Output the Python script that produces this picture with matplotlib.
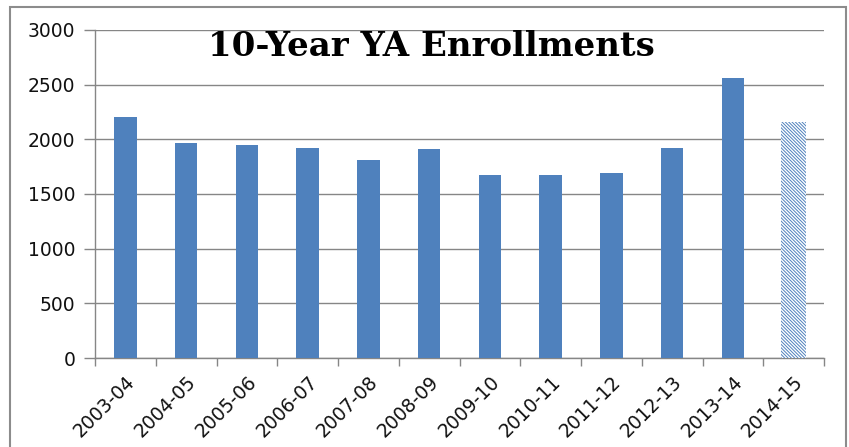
import numpy as np
import matplotlib.pyplot as plt
from matplotlib.patches import Rectangle

years = ['2003-04', '2004-05', '2005-06', '2006-07', '2007-08', '2008-09',
         '2009-10', '2010-11', '2011-12', '2012-13', '2013-14', '2014-15']
enrollments = [2205, 1965, 1945, 1920, 1810, 1910, 1675, 1675, 1695, 1920, 2560, 2160]
projected = [False] * 11 + [True]

blue = '#4F81BD'
grey = '#868686'

plt.rcParams['hatch.linewidth'] = 0.7

fig = plt.figure(figsize=(8.49, 4.47), dpi=100)
fig.patches.append(Rectangle((0.012, -0.05), 0.985, 1.034, transform=fig.transFigure,
                             fill=False, edgecolor='#8C8C8C', linewidth=1.5))
ax = fig.add_axes([0.1119, 0.1991, 0.8587, 0.7338])

x = np.arange(len(years))
for xi, val, proj in zip(x, enrollments, projected):
    if proj:
        ax.bar(xi, val, width=0.41, facecolor='white', edgecolor=blue,
               hatch='\\' * 10, linewidth=0, zorder=3)
    else:
        ax.bar(xi, val, width=0.37, color=blue, zorder=3)

ax.set_xlim(-0.5, len(years) - 0.5)
ax.set_ylim(0, 3000)
ax.set_yticks(np.arange(0, 3001, 500))
ax.yaxis.grid(True, color=grey, linewidth=1, zorder=0)
ax.set_axisbelow(True)

ax.set_xticks(np.arange(-0.5, len(years), 1))
ax.set_xticklabels([])
ax.set_xticks(x, minor=True)
ax.set_xticklabels(years, minor=True, rotation=45, ha='right', va='top',
                   rotation_mode='anchor', fontsize=13.5, color='#111111')
ax.tick_params(axis='x', which='major', length=6, color=grey, width=1)
ax.tick_params(axis='x', which='minor', length=0, pad=10)
ax.tick_params(axis='y', length=8, color=grey, width=1, labelsize=13.5,
               labelcolor='#111111', pad=6)

for side in ['top', 'right']:
    ax.spines[side].set_visible(False)
for side in ['left', 'bottom']:
    ax.spines[side].set_color(grey)
    ax.spines[side].set_linewidth(1)

ax.text(0.462, 0.95, '10-Year YA Enrollments', transform=ax.transAxes,
        ha='center', va='center', fontsize=24.5, fontweight='bold',
        family='DejaVu Serif', color='black')

fig.savefig('out.png', dpi=100)
